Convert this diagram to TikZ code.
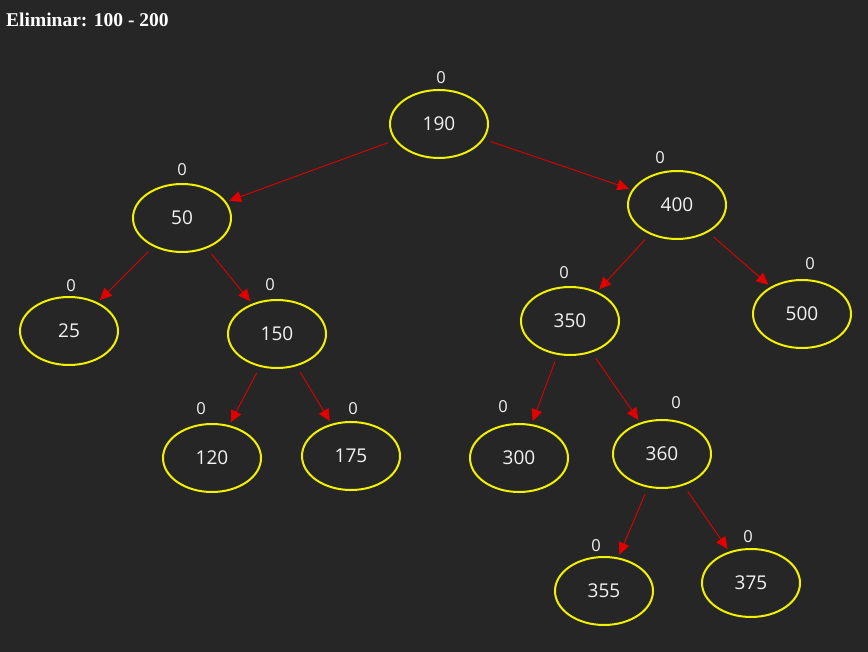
\documentclass[tikz,border=0pt]{standalone}
\usepackage{fontspec}
\setmainfont{Liberation Serif}
\newfontfamily\nodefont{Open Sans}
\usetikzlibrary{shapes.geometric,arrows.meta}
\definecolor{bg}{HTML}{262626}
\definecolor{ring}{HTML}{F2F200}
\definecolor{link}{HTML}{E00000}
\definecolor{txt}{HTML}{F2F2F2}
\tikzset{
  treenode/.style={ellipse, draw=ring, line width=2pt, minimum width=98pt,
    minimum height=68pt, inner sep=0pt, text=txt,
    font=\nodefont\fontsize{19}{21}\selectfont},
  balance/.style={text=txt, inner sep=0pt, font=\nodefont\fontsize{16.5}{18}\selectfont},
  edge/.style={draw=link, line width=0.9pt,
    -{Triangle[length=12pt,width=11pt]}, shorten <=7pt, shorten >=3pt}
}
\begin{document}
\begin{tikzpicture}[x=1pt,y=-1pt]
  \fill[bg] (0,0) rectangle (868,652);
  \useasboundingbox (0,0) rectangle (868,652);

  \node[anchor=base west, text=white, inner sep=0pt,
        font=\bfseries\fontsize{19.5}{21}\selectfont] (title) at (6,27) {Eliminar: 100 - 200};

  % tree nodes
  \node[treenode] (n190) at (439,124) {190};
  \node[treenode] (n50)  at (182,218) {50};
  \node[treenode] (n400) at (677,205) {400};
  \node[treenode] (n25)  at (69,331)  {25};
  \node[treenode] (n150) at (277,334) {150};
  \node[treenode] (n350) at (570,321) {350};
  \node[treenode] (n500) at (802,314) {500};
  \node[treenode] (n120) at (212,458) {120};
  \node[treenode] (n175) at (351,456) {175};
  \node[treenode] (n300) at (519,458) {300};
  \node[treenode] (n360) at (662,454) {360};
  \node[treenode] (n355) at (604,591) {355};
  \node[treenode] (n375) at (751,583) {375};

  % balance factors
  \node[balance] (b190) at (441,78)  {0};
  \node[balance] (b50)  at (182,170) {0};
  \node[balance] (b400) at (660,158) {0};
  \node[balance] (b25)  at (71,286)  {0};
  \node[balance] (b150) at (270,285) {0};
  \node[balance] (b350) at (564,273) {0};
  \node[balance] (b500) at (810,264) {0};
  \node[balance] (b120) at (201,409) {0};
  \node[balance] (b175) at (353,409) {0};
  \node[balance] (b300) at (503,407) {0};
  \node[balance] (b360) at (676,403) {0};
  \node[balance] (b355) at (596,546) {0};
  \node[balance] (b375) at (748,537) {0};

  % links
  \draw[edge] (n190) -- (n50);
  \draw[edge] (n190) -- (n400);
  \draw[edge] (n50) -- (n25);
  \draw[edge] (n50) -- (n150);
  \draw[edge] (n400) -- (n350);
  \draw[edge] (n400) -- (n500);
  \draw[edge] (n150) -- (n120);
  \draw[edge] (n150) -- (n175);
  \draw[edge] (n350) -- (n300);
  \draw[edge] (n350) -- (n360);
  \draw[edge] (n360) -- (n355);
  \draw[edge] (n360) -- (n375);
\end{tikzpicture}
\end{document}
